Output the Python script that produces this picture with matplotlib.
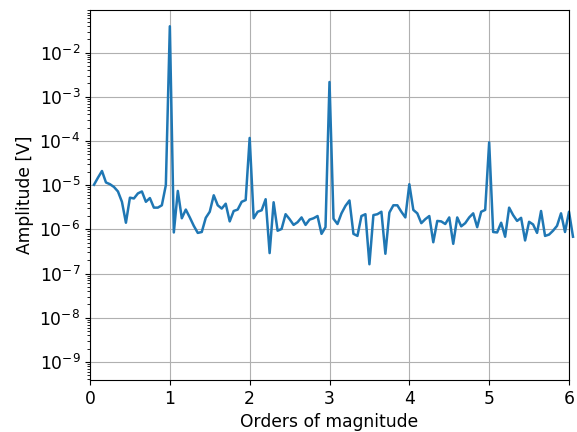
import numpy as np
import matplotlib
matplotlib.use("Agg")
import matplotlib.pyplot as plt

# Frequency axis ("orders of magnitude"), sample spacing 0.05
step = 0.05
n_points = 121

amp_0_1 = [1.02e-5, 1.48e-5, 2.09e-5, 1.15e-5, 1.05e-5, 9.1e-6, 7.2e-6, 4.2e-6, 1.41e-6, 5.2e-6,
           5.0e-6, 6.5e-6, 7.2e-6, 4.2e-6, 5.1e-6, 3.1e-6, 3.1e-6, 3.5e-6, 1.0e-5, 3.94e-2]
amp_1_2 = [8.5e-7, 7.4e-6, 1.78e-6, 2.8e-6, 1.86e-6, 1.20e-6, 8.3e-7, 8.7e-7, 1.82e-6, 2.5e-6,
           5.9e-6, 3.5e-6, 2.95e-6, 3.8e-6, 1.51e-6, 2.6e-6, 2.8e-6, 4.2e-6, 4.6e-6, 1.17e-4]
amp_2_3 = [1.78e-6, 2.5e-6, 2.7e-6, 4.8e-6, 2.9e-7, 4.1e-6, 9.3e-7, 1.02e-6, 2.2e-6, 1.70e-6,
           1.26e-6, 1.45e-6, 1.86e-6, 1.26e-6, 1.66e-6, 1.78e-6, 2.0e-6, 7.9e-7, 1.12e-6, 2.16e-3]
amp_3_4 = [1.74e-6, 1.32e-6, 2.3e-6, 3.4e-6, 4.5e-6, 7.9e-7, 7.1e-7, 2.0e-6, 2.2e-6, 1.62e-7,
           2.1e-6, 2.2e-6, 2.5e-6, 2.8e-7, 2.4e-6, 3.5e-6, 3.5e-6, 2.5e-6, 1.86e-6, 1.05e-5]
amp_4_5 = [2.75e-6, 2.3e-6, 1.38e-6, 1.70e-6, 2.0e-6, 5.1e-7, 1.55e-6, 1.51e-6, 1.32e-6, 1.86e-6,
           4.7e-7, 1.86e-6, 1.17e-6, 1.38e-6, 1.86e-6, 2.3e-6, 1.12e-6, 2.5e-6, 2.75e-6, 9.3e-5]
amp_5_6 = [8.7e-7, 8.5e-7, 1.41e-6, 6.8e-7, 3.1e-6, 2.1e-6, 1.55e-6, 1.82e-6, 5.6e-7, 1.48e-6,
           1.29e-6, 8.3e-7, 2.6e-6, 7.1e-7, 7.6e-7, 9.3e-7, 1.20e-6, 2.3e-6, 8.7e-7, 2.5e-6,
           6.8e-7]

amplitude = np.array(amp_0_1 + amp_1_2 + amp_2_3 + amp_3_4 + amp_4_5 + amp_5_6)
x = np.arange(1, n_points + 1) * step

xticks = [0, 1, 2, 3, 4, 5, 6]

plt.rcParams["font.size"] = 12.3
DPI = 100
W, H = 577, 432
fig, ax = plt.subplots(figsize=(W / DPI, H / DPI), dpi=DPI)
fig.subplots_adjust(left=90 / W, right=569 / W, top=1 - 10 / H, bottom=1 - 380 / H)
ax.plot(x, amplitude, color="#1f77b4", linewidth=1.8, clip_on=False)
ax.set_yscale("log")
ax.set_xlim(0, 6)
ax.set_ylim(10 ** -9.41, 10 ** -1.036)
ax.set_xticks(xticks)
ax.grid(True)
ax.set_xlabel("Orders of magnitude")
ax.set_ylabel("Amplitude [V]")
fig.savefig("out.png", dpi=DPI)
